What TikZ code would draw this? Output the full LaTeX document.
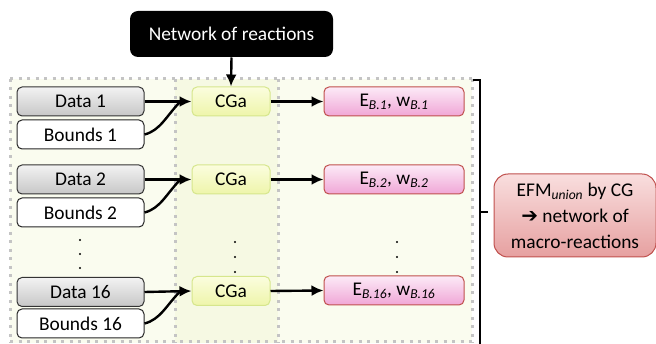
\documentclass[tikz,border=0pt]{standalone}
\usepackage{fontspec}
\setmainfont{Carlito}
\newfontfamily\symfont{DejaVu Sans}
\usetikzlibrary{arrows.meta}
\definecolor{bgA}{HTML}{FAFCEF}
\definecolor{bgB}{HTML}{F6F9E3}
\definecolor{dotgray}{HTML}{C4C4C4}
\definecolor{redb}{HTML}{C0504D}
\tikzset{
  base/.style={rounded corners=5pt, minimum height=29pt, inner sep=0pt, font=\fontsize{19.4}{26}\selectfont, line width=1pt},
  databox/.style={base, draw=black!80, top color=white!95!black, bottom color=black!22, minimum width=127pt},
  boundbox/.style={base, draw=black!85, fill=white, minimum width=127pt},
  cgbox/.style={base, draw={rgb,255:red,214;green,230;blue,140}, top color={rgb,255:red,251;green,253;blue,222}, bottom color={rgb,255:red,238;green,245;blue,170}, minimum width=78pt},
  ebox/.style={base, draw=redb, top color={rgb,255:red,252;green,234;blue,247}, bottom color={rgb,255:red,240;green,166;blue,214}, minimum width=140pt},
  arr/.style={line width=2.4pt, -{Latex[length=12pt,width=11pt]}},
  dotline/.style={dotgray, line width=3pt, dash pattern=on 3pt off 5.5pt},
  ell/.style={fill=black, circle, inner sep=0pt, minimum size=2.4pt}
}
\begin{document}
\begin{tikzpicture}[x=1pt,y=-1pt]
\useasboundingbox (0,0) rectangle (656,344);
% background region
\fill[bgA] (10,79) rectangle (472,343);
\fill[bgB] (175,79) rectangle (278,343);
\draw[dotline] (10,79) -- (472,79);
\draw[dotline] (10,342) -- (472,342);
\draw[dotline] (10,79) -- (10,343);
\draw[dotline] (175,79) -- (175,343);
\draw[dotline] (278,79) -- (278,343);
\draw[dotline] (472,79) -- (472,343);
% bracket
\draw[line width=2.4pt] (473,80) -- (480,80) -- (480,344);
\draw[line width=2.4pt] (480,212) -- (488,212);

% top black box
\node[base, rounded corners=8pt, fill=black, text=white, minimum width=203pt, minimum height=46pt] (net) at (231.5,34) {Network of reactions};

% rows
\node[databox] (d1) at (80.5,101.5) {Data 1};
\node[boundbox] (b1) at (80.5,134.5) {Bounds 1};
\node[databox] (d2) at (80.5,179.5) {Data 2};
\node[boundbox] (b2) at (80.5,212.5) {Bounds 2};
\node[databox] (d3) at (80.5,292) {Data 16};
\node[boundbox] (b3) at (80.5,323.5) {Bounds 16};

\node[cgbox] (c1) at (231,101.5) {CGa};
\node[cgbox] (c2) at (231,179.5) {CGa};
\node[cgbox] (c3) at (231,291) {CGa};

\node[ebox] (e1) at (394,101.5) {E\textsubscript{\itshape B.1}, w\textsubscript{\itshape B.1}};
\node[ebox] (e2) at (394,179.5) {E\textsubscript{\itshape B.2}, w\textsubscript{\itshape B.2}};
\node[ebox] (e3) at (394,290.5) {E\textsubscript{\itshape B.16}, w\textsubscript{\itshape B.16}};

\node[base, draw=redb, rounded corners=14pt, top color={rgb,255:red,249;green,222;blue,222}, bottom color={rgb,255:red,230;green,160;blue,160}, minimum width=162pt, minimum height=83pt, align=center] (efm) at (575,215.5)
  {EFM\textsubscript{\itshape union} by CG\\{\symfont\fontsize{20}{26}\selectfont ➔}\ network of\\macro-reactions};

% ellipses
\foreach \x/\ya/\yb/\yc [count=\i] in {80/240/254/268, 235/242/257/272, 397/242/257/272}{
  \node[ell] (p\i a) at (\x,\ya) {};
  \node[ell] (p\i b) at (\x,\yb) {};
  \node[ell] (p\i c) at (\x,\yc) {};
}

% connectors
\draw[arr] (net.south) -- (c1.north);
\foreach \i in {1,2,3}{
  \draw[arr] (d\i.east) -- (c\i.west);
  \draw[line width=2.4pt] (b\i.east) .. controls +(16,-4) and +(-14,14) .. ([xshift=-11pt]c\i.west);
  \draw[arr] (c\i.east) -- (e\i.west);
}
\end{tikzpicture}
\end{document}
